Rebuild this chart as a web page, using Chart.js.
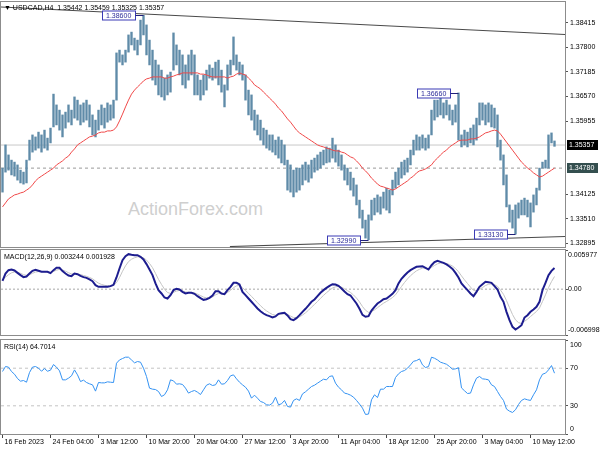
<!DOCTYPE html>
<html><head><meta charset="utf-8">
<script src="https://cdn.jsdelivr.net/npm/chart.js@4.4.0/dist/chart.umd.min.js"></script>
<style>
body{margin:0;background:#fff;width:600px;height:450px;overflow:hidden;position:relative;font-family:"Liberation Sans",Arial,sans-serif;}
canvas{position:absolute;left:0;}
.t{position:absolute;font-size:7px;color:#000;white-space:nowrap;line-height:9px;}
.wm{position:absolute;left:128px;top:199px;font-size:18px;color:#cfcfcf;white-space:nowrap;}
</style></head><body>
<div class="wm">ActionForex.com</div>
<canvas id="c1" width="600" height="250" style="top:0"></canvas>
<canvas id="c2" width="600" height="90" style="top:248px"></canvas>
<canvas id="c3" width="600" height="112" style="top:338px"></canvas>
<div class="t" style="left:4px;top:3px;">&#9660; USDCAD,H4 &nbsp;1.35442 1.35459 1.35325 1.35357</div>
<div class="t" style="left:4px;top:252px;">MACD(12,26,9) 0.003244 0.001928</div>
<div class="t" style="left:4px;top:342px;">RSI(14) 64.7014</div>
<script>
const tickLabels = ["16 Feb 2023","24 Feb 04:00","3 Mar 12:00","10 Mar 20:00","20 Mar 04:00","27 Mar 12:00","3 Apr 20:00","11 Apr 04:00","18 Apr 12:00","25 Apr 20:00","3 May 04:00","10 May 12:00"];
const tickIndex = [0,16,32,48,64,80,96,112,128,144,160,176];
const priceTicks = [1.32895,1.33510,1.34125,1.35955,1.36570,1.37185,1.37800,1.38415];
const macdTicks = [-0.006998,0,0.005977];
const rsiTicks = [0,30,70,100];
const rsiLevels = [30,70];
const currentPrice = 1.35357;
const markedLevel = 1.34780;
const upperTrend = [{x:-0.5,y:1.38808},{x:187.5,y:1.38120}];
const lowerTrend = [{x:75.8,y:1.32821},{x:187.5,y:1.33071}];
const extremes = [{i:47,p:1.38600},{i:152,p:1.36660},{i:122,p:1.32990},{i:171,p:1.33130}];

const highs = [1.3478,1.3536,1.3511,1.3498,1.3493,1.3486,1.3473,1.3468,1.3498,1.3548,
1.3561,1.3556,1.3568,1.3561,1.3573,1.3553,1.3578,1.3663,1.3636,1.3623,
1.3611,1.3618,1.3636,1.3623,1.3656,1.3648,1.3636,1.3641,1.3648,1.3636,
1.3611,1.3598,1.3623,1.3636,1.3628,1.3641,1.3636,1.3648,1.3766,1.3773,
1.3761,1.3773,1.3811,1.3818,1.3803,1.3798,1.3848,1.3860,1.3836,1.3798,
1.3773,1.3748,1.3736,1.3723,1.3703,1.3711,1.3718,1.3816,1.3786,1.3773,
1.3761,1.3736,1.3761,1.3773,1.3761,1.3711,1.3698,1.3711,1.3723,1.3736,
1.3728,1.3743,1.3748,1.3723,1.3686,1.3736,1.3748,1.3806,1.3761,1.3743,
1.3736,1.3711,1.3673,1.3661,1.3623,1.3611,1.3598,1.3578,1.3573,1.3561,
1.3561,1.3548,1.3556,1.3548,1.3536,1.3498,1.3486,1.3473,1.3478,1.3478,
1.3486,1.3493,1.3486,1.3498,1.3503,1.3511,1.3518,1.3523,1.3531,1.3528,
1.3553,1.3536,1.3523,1.3511,1.3486,1.3478,1.3468,1.3453,1.3436,1.3398,
1.3373,1.3348,1.3361,1.3398,1.3403,1.3411,1.3406,1.3418,1.3428,1.3423,
1.3448,1.3468,1.3478,1.3493,1.3498,1.3503,1.3523,1.3548,1.3561,1.3556,
1.3561,1.3553,1.3561,1.3623,1.3648,1.3648,1.3653,1.3641,1.3648,1.3636,
1.3623,1.3636,1.3666,1.3561,1.3573,1.3568,1.3578,1.3586,1.3603,1.3641,
1.3641,1.3636,1.3641,1.3636,1.3628,1.3611,1.3548,1.3511,1.3461,1.3386,
1.3373,1.3386,1.3391,1.3398,1.3403,1.3398,1.3391,1.3411,1.3428,1.3478,
1.3493,1.3498,1.3561,1.3566,1.35459];
const lows = [1.3418,1.3468,1.3473,1.3461,1.3458,1.3448,1.3441,1.3438,1.3441,1.3498,
1.3518,1.3523,1.3528,1.3518,1.3528,1.3523,1.3541,1.3581,1.3586,1.3573,
1.3556,1.3578,1.3593,1.3586,1.3603,1.3598,1.3586,1.3593,1.3598,1.3581,
1.3561,1.3556,1.3573,1.3586,1.3578,1.3593,1.3598,1.3603,1.3648,1.3743,
1.3736,1.3743,1.3768,1.3786,1.3773,1.3761,1.3786,1.3811,1.3761,1.3736,
1.3698,1.3686,1.3661,1.3656,1.3648,1.3661,1.3668,1.3723,1.3736,1.3711,
1.3686,1.3678,1.3698,1.3711,1.3661,1.3661,1.3648,1.3661,1.3673,1.3703,
1.3698,1.3703,1.3686,1.3668,1.3631,1.3673,1.3711,1.3736,1.3723,1.3711,
1.3698,1.3648,1.3611,1.3598,1.3573,1.3561,1.3548,1.3536,1.3528,1.3523,
1.3518,1.3511,1.3503,1.3491,1.3486,1.3423,1.3418,1.3406,1.3418,1.3423,
1.3436,1.3448,1.3443,1.3453,1.3468,1.3473,1.3478,1.3486,1.3491,1.3493,
1.3503,1.3493,1.3483,1.3473,1.3448,1.3436,1.3423,1.3408,1.3386,1.3353,
1.3328,1.3303,1.3299,1.3348,1.3361,1.3368,1.3363,1.3378,1.3373,1.3366,
1.3411,1.3428,1.3436,1.3453,1.3461,1.3468,1.3486,1.3511,1.3523,1.3523,
1.3528,1.3523,1.3528,1.3561,1.3598,1.3606,1.3611,1.3603,1.3611,1.3598,
1.3586,1.3593,1.3548,1.3531,1.3536,1.3531,1.3541,1.3536,1.3548,1.3586,
1.3598,1.3586,1.3593,1.3581,1.3578,1.3531,1.3498,1.3436,1.3381,1.3343,
1.3328,1.3313,1.3353,1.3361,1.3361,1.3356,1.3331,1.3368,1.3386,1.3423,
1.3478,1.3478,1.3478,1.3541,1.35325];
const sma = [1.3381,1.3391,1.3401,1.3406,1.3411,1.3413,1.3416,1.3418,1.3423,1.3428,
1.3436,1.3446,1.3453,1.3458,1.3463,1.3468,1.3473,1.3478,1.3486,1.3491,
1.3496,1.3503,1.3508,1.3518,1.3526,1.3536,1.3541,1.3546,1.3551,1.3556,
1.3558,1.3561,1.3566,1.3568,1.3568,1.3571,1.3571,1.3573,1.3581,1.3596,
1.3613,1.3631,1.3648,1.3663,1.3673,1.3681,1.3688,1.3696,1.3701,1.3703,
1.3706,1.3706,1.3706,1.3706,1.3703,1.3703,1.3706,1.3708,1.3711,1.3713,
1.3716,1.3716,1.3716,1.3716,1.3716,1.3716,1.3713,1.3713,1.3711,1.3708,
1.3706,1.3706,1.3706,1.3706,1.3706,1.3703,1.3706,1.3708,1.3713,1.3716,
1.3713,1.3711,1.3703,1.3696,1.3686,1.3681,1.3676,1.3668,1.3661,1.3653,
1.3646,1.3638,1.3628,1.3621,1.3611,1.3601,1.3593,1.3583,1.3573,1.3566,
1.3561,1.3556,1.3551,1.3546,1.3541,1.3536,1.3533,1.3531,1.3528,1.3526,
1.3523,1.3521,1.3521,1.3518,1.3516,1.3511,1.3506,1.3503,1.3496,1.3488,
1.3478,1.3471,1.3463,1.3453,1.3446,1.3438,1.3433,1.3431,1.3428,1.3426,
1.3423,1.3426,1.3431,1.3436,1.3441,1.3446,1.3453,1.3458,1.3466,1.3471,
1.3473,1.3476,1.3481,1.3486,1.3496,1.3503,1.3511,1.3518,1.3523,1.3531,
1.3536,1.3541,1.3546,1.3548,1.3548,1.3548,1.3551,1.3551,1.3553,1.3556,
1.3561,1.3566,1.3568,1.3571,1.3573,1.3571,1.3563,1.3553,1.3543,1.3533,
1.3523,1.3513,1.3503,1.3493,1.3486,1.3478,1.3473,1.3466,1.3461,1.3456,
1.3458,1.3463,1.3468,1.3473,1.3478];
const macd = [0.00127,0.00239,0.00290,0.00300,0.00285,0.00249,0.00214,0.00183,0.00193,0.00239,
0.00280,0.00295,0.00280,0.00265,0.00265,0.00265,0.00244,0.00290,0.00326,0.00326,
0.00275,0.00239,0.00209,0.00199,0.00239,0.00229,0.00204,0.00183,0.00173,0.00148,
0.00122,0.00061,0.00036,0.00036,0.00036,0.00036,0.00046,0.00066,0.00178,0.00316,
0.00443,0.00504,0.00534,0.00524,0.00519,0.00519,0.00494,0.00453,0.00382,0.00300,
0.00214,0.00087,-0.00015,-0.00066,-0.00127,-0.00143,-0.00092,-0.00015,0.00005,-0.00005,
-0.00041,-0.00066,-0.00056,-0.00056,-0.00071,-0.00107,-0.00137,-0.00163,-0.00153,-0.00132,
-0.00097,-0.00031,-0.00031,-0.00066,-0.00076,-0.00015,0.00036,0.00097,0.00097,0.00071,
-0.00041,-0.00092,-0.00143,-0.00193,-0.00244,-0.00295,-0.00336,-0.00372,-0.00397,-0.00412,
-0.00433,-0.00417,-0.00377,-0.00366,-0.00361,-0.00402,-0.00458,-0.00473,-0.00443,-0.00397,
-0.00346,-0.00300,-0.00249,-0.00193,-0.00158,-0.00107,-0.00056,-0.00015,0.00020,0.00051,
0.00076,0.00071,0.00051,0.00010,-0.00036,-0.00076,-0.00097,-0.00158,-0.00219,-0.00300,
-0.00392,-0.00422,-0.00412,-0.00326,-0.00270,-0.00219,-0.00188,-0.00153,-0.00143,-0.00107,
-0.00071,-0.00015,0.00087,0.00158,0.00209,0.00255,0.00290,0.00316,0.00341,0.00346,
0.00351,0.00326,0.00300,0.00366,0.00412,0.00433,0.00417,0.00402,0.00377,0.00346,
0.00310,0.00249,0.00178,0.00087,0.00036,-0.00015,-0.00066,-0.00107,-0.00041,0.00036,
0.00076,0.00112,0.00107,0.00097,0.00046,-0.00005,-0.00117,-0.00193,-0.00346,-0.00473,
-0.00575,-0.00616,-0.00585,-0.00550,-0.00433,-0.00397,-0.00346,-0.00310,-0.00270,-0.00193,
-0.00015,0.00097,0.00214,0.00280,0.00324];
const signal = [0.00150,0.00182,0.00221,0.00249,0.00262,0.00257,0.00242,0.00221,0.00211,0.00221,
0.00242,0.00261,0.00268,0.00267,0.00266,0.00266,0.00258,0.00270,0.00290,0.00303,
0.00293,0.00274,0.00251,0.00232,0.00235,0.00233,0.00223,0.00209,0.00196,0.00179,
0.00158,0.00123,0.00092,0.00072,0.00059,0.00051,0.00049,0.00055,0.00099,0.00177,
0.00273,0.00356,0.00420,0.00457,0.00479,0.00493,0.00493,0.00479,0.00444,0.00392,
0.00328,0.00241,0.00149,0.00072,0.00000,-0.00051,-0.00066,-0.00048,-0.00029,-0.00020,
-0.00028,-0.00042,-0.00047,-0.00050,-0.00058,-0.00076,-0.00098,-0.00121,-0.00133,-0.00133,
-0.00120,-0.00088,-0.00067,-0.00067,-0.00070,-0.00050,-0.00019,0.00023,0.00050,0.00057,
0.00022,-0.00019,-0.00064,-0.00110,-0.00158,-0.00207,-0.00253,-0.00296,-0.00332,-0.00361,
-0.00387,-0.00398,-0.00390,-0.00381,-0.00374,-0.00384,-0.00411,-0.00433,-0.00437,-0.00423,
-0.00395,-0.00361,-0.00321,-0.00275,-0.00233,-0.00188,-0.00140,-0.00095,-0.00054,-0.00016,
0.00017,0.00036,0.00042,0.00030,0.00006,-0.00023,-0.00050,-0.00089,-0.00136,-0.00195,
-0.00266,-0.00322,-0.00354,-0.00344,-0.00317,-0.00282,-0.00248,-0.00214,-0.00188,-0.00159,
-0.00127,-0.00087,-0.00024,0.00041,0.00101,0.00157,0.00205,0.00245,0.00280,0.00303,
0.00320,0.00322,0.00314,0.00333,0.00361,0.00387,0.00398,0.00399,0.00391,0.00375,
0.00352,0.00315,0.00266,0.00202,0.00142,0.00086,0.00031,-0.00019,-0.00027,-0.00004,
0.00025,0.00056,0.00074,0.00082,0.00069,0.00042,-0.00015,-0.00079,-0.00175,-0.00282,
-0.00387,-0.00469,-0.00511,-0.00525,-0.00492,-0.00458,-0.00418,-0.00379,-0.00340,-0.00287,
-0.00189,-0.00086,0.00022,0.00115,0.00193];
const rsi = [66.5,71.8,71.1,66.5,63.6,59.0,56.2,56.9,55.1,65.4,
71.1,71.8,70.0,66.8,69.6,66.8,67.9,73.9,71.1,67.2,
57.6,57.6,59.4,61.9,68.2,62.9,55.8,57.3,54.8,53.4,
52.3,45.6,54.8,54.4,54.4,55.5,55.1,54.8,75.3,78.8,
80.3,81.7,81.7,78.8,75.7,77.1,76.4,70.0,61.2,48.8,
47.7,47.3,45.2,39.9,41.7,47.0,57.6,56.5,53.0,53.4,
52.7,48.8,43.5,45.2,46.3,44.5,42.0,47.0,51.9,53.4,
51.6,52.3,57.6,53.0,53.4,56.9,61.9,62.9,58.7,55.1,
52.3,49.8,45.6,38.1,41.3,38.1,34.6,33.5,31.1,30.7,
32.8,39.2,31.1,32.1,35.7,29.3,28.6,35.7,37.4,35.7,
42.7,44.9,47.7,50.5,51.9,54.1,56.2,58.3,57.6,61.2,
61.9,54.1,49.8,47.0,43.5,42.7,41.3,39.2,35.7,31.8,
27.5,20.8,21.2,36.4,41.7,38.8,47.7,47.7,50.5,50.5,
50.5,60.1,64.0,66.5,67.5,70.0,73.5,77.4,78.1,79.9,
73.5,70.7,71.8,81.7,80.6,78.8,76.4,75.3,74.2,71.8,
68.9,69.3,70.5,49.0,46.0,43.1,43.5,52.3,59.4,61.2,
58.7,58.3,57.6,52.3,50.5,45.2,39.9,35.7,26.5,24.3,
22.9,25.8,31.4,35.7,37.4,36.4,35.7,41.7,47.0,57.6,
63.6,64.7,68.2,72.8,64.7];

const FONT = '"Liberation Sans", Arial, sans-serif';
const XMIN = -0.5, XMAX = 187.5;
const pts = arr => arr.map((v,i)=>({x:i,y:v}));
const flat = v => [{x:XMIN,y:v},{x:XMAX,y:v}];

const framePlugin = {
  id:'frame',
  afterDraw(chart){
    const {ctx, chartArea:a} = chart;
    ctx.save();
    ctx.strokeStyle = '#8c8c8c'; ctx.lineWidth = 1;
    ctx.strokeRect(a.left-0.5, a.top-0.5, a.right-a.left+1, a.bottom-a.top+1);
    ctx.restore();
  }
};

const xHidden = {type:'linear', min:XMIN, max:XMAX, offset:false, display:false};
const yRight = (ticks, cb, pad) => ({
  position:'right',
  afterFit(s){ s.width = 35; s.paddingTop = 0; s.paddingBottom = 0; },
  afterBuildTicks(s){ s.ticks = ticks.map(v=>({value:v})); },
  grid:{drawOnChartArea:false, drawTicks:true, tickLength:3, color:'#555'},
  border:{display:false},
  ticks:{autoSkip:false, padding:(pad===undefined?2:pad), color:'#000', font:{family:FONT, size:7, lineHeight:1.55}, callback:cb}
});

const mainPlugin = {
  id:'mainMarks',
  afterDatasetsDraw(chart){
    const {ctx, scales:{x,y}} = chart;
    ctx.save();
    ctx.font = '7px ' + FONT;
    ctx.textBaseline = 'middle';
    extremes.forEach(e=>{
      const px = x.getPixelForValue(e.i);
      const py = Math.round(y.getPixelForValue(e.p)) + 0.5;
      const w = 33, h = 9, bx = Math.round(px) - 41.5;
      ctx.fillStyle = '#ffffff';
      ctx.fillRect(bx, py-4.5, w, h);
      ctx.strokeStyle = '#3b3bb5'; ctx.lineWidth = 1;
      ctx.strokeRect(bx, py-4.5, w, h);
      ctx.beginPath(); ctx.moveTo(bx+w, py); ctx.lineTo(px, py);
      ctx.strokeStyle = '#20207a'; ctx.stroke();
      ctx.fillStyle = '#2c2c99';
      ctx.fillText(e.p.toFixed(5), bx+3.5, py+0.5);
    });
    ctx.restore();
  },
  afterDraw(chart){
    const {ctx, scales:{y}} = chart;
    ctx.save();
    ctx.font = '7px ' + FONT;
    ctx.textBaseline = 'middle';
    [{v:currentPrice,bg:'#000000',fg:'#ffffff'},{v:markedLevel,bg:'#344f4f',fg:'#ffffff'}].forEach(b=>{
      const py = Math.round(y.getPixelForValue(b.v));
      ctx.fillStyle = b.bg; ctx.fillRect(567, py-5, 31, 10);
      ctx.fillStyle = b.fg; ctx.fillText(b.v.toFixed(5), 569, py+0.5);
    });
    ctx.restore();
  }
};

new Chart(document.getElementById('c1'), {
  type:'bar',
  data:{datasets:[
    {type:'line', data:upperTrend, borderColor:'#4a4a4a', borderWidth:1.2, pointRadius:0, order:0},
    {type:'line', data:lowerTrend, borderColor:'#4a4a4a', borderWidth:1.2, pointRadius:0, order:0},
    {type:'line', data:pts(sma), borderColor:'#f04848', borderWidth:1, pointRadius:0, tension:0, order:1},
    {type:'bar', data:highs.map((h,i)=>({x:i,y:[lows[i],h]})), backgroundColor:'#5f8ba8', barThickness:1.7, grouped:false, order:2},
    {type:'line', data:flat(currentPrice), borderColor:'#c8c8c8', borderWidth:1, pointRadius:0, order:5},
    {type:'line', data:flat(markedLevel), borderColor:'#9a9a9a', borderWidth:1, borderDash:[3,3], pointRadius:0, order:5}
  ]},
  options:{
    responsive:false, animation:false, devicePixelRatio:1,
    layout:{padding:{left:1,right:0,top:2,bottom:3}},
    plugins:{legend:{display:false}, tooltip:{enabled:false}},
    scales:{
      x:xHidden,
      y:Object.assign(yRight(priceTicks, v=>v.toFixed(5)), {min:1.32808, max:1.38933})
    }
  },
  plugins:[framePlugin, mainPlugin]
});

new Chart(document.getElementById('c2'), {
  type:'line',
  data:{datasets:[
    {data:flat(0), borderColor:'#a8a8a8', borderWidth:1, borderDash:[2,2], pointRadius:0, order:3},
    {data:pts(signal), borderColor:'#c4c4c4', borderWidth:1, pointRadius:0, order:2},
    {data:pts(macd), borderColor:'#1d1d8f', borderWidth:2, pointRadius:0, order:1}
  ]},
  options:{
    responsive:false, animation:false, devicePixelRatio:1,
    layout:{padding:{left:1,right:0,top:2,bottom:3}},
    plugins:{legend:{display:false}, tooltip:{enabled:false}},
    scales:{
      x:xHidden,
      y:Object.assign(yRight(macdTicks, v=> v>0 ? ['', v.toFixed(6)] : v<0 ? [v.toFixed(6), ''] : '0.00', 0), {min:-0.006998, max:0.005977})
    }
  },
  plugins:[framePlugin]
});

new Chart(document.getElementById('c3'), {
  type:'line',
  data:{datasets:[
    {data:flat(rsiLevels[1]), borderColor:'#c4c4c4', borderWidth:1, borderDash:[3,3], pointRadius:0, order:3},
    {data:flat(rsiLevels[0]), borderColor:'#c4c4c4', borderWidth:1, borderDash:[3,3], pointRadius:0, order:3},
    {data:pts(rsi), borderColor:'#3492f2', borderWidth:1, pointRadius:0, order:1}
  ]},
  options:{
    responsive:false, animation:false, devicePixelRatio:1,
    layout:{padding:{left:1,right:0,top:2,bottom:0}},
    plugins:{legend:{display:false}, tooltip:{enabled:false}},
    scales:{
      x:{type:'linear', min:XMIN, max:XMAX, offset:false, position:'bottom',
        afterFit(s){ s.height = 16; s.paddingLeft = 0; s.paddingRight = 0; },
        afterBuildTicks(s){ s.ticks = tickIndex.map(v=>({value:v})); },
        grid:{drawOnChartArea:false, drawTicks:true, tickLength:4, color:'#444'},
        border:{display:false},
        ticks:{autoSkip:false, maxRotation:0, align:'start', padding:0, labelOffset:2, color:'#000',
          font:{family:FONT, size:7}, callback:(v)=>tickLabels[tickIndex.indexOf(v)]}
      },
      y:Object.assign(yRight(rsiTicks, v=> v===100 ? ['', '100'] : v===0 ? ['0',''] : String(v)), {min:0, max:100})
    }
  },
  plugins:[framePlugin]
});
</script>
</body></html>
